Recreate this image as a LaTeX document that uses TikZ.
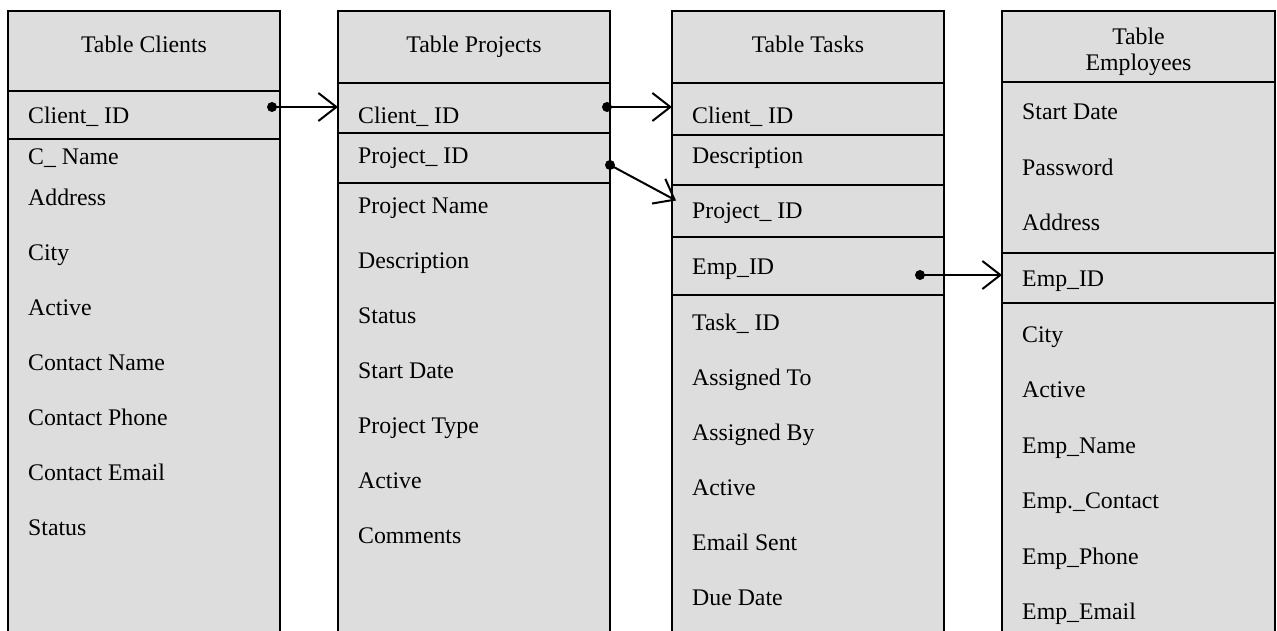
\documentclass[tikz,border=0pt]{standalone}
\usepackage{fontspec}
\setmainfont{Liberation Serif}
\usetikzlibrary{arrows.meta}
\definecolor{tablefill}{RGB}{221,221,221}
\tikzset{
  tablebg/.style={fill=tablefill, draw=none, inner sep=0pt, outer sep=0pt, anchor=north west},
  border/.style={line width=2pt, line cap=rect},
  sep/.style={line width=2pt},
  field/.style={anchor=base west, inner sep=0pt, font=\fontsize{23.8pt}{28pt}\selectfont},
  head/.style={anchor=base, inner sep=0pt, font=\fontsize{23.8pt}{28pt}\selectfont, align=center},
  conn/.style={line width=2pt, -{Straight Barb[length=18pt, width=28pt, line width=2pt]}},
  dotmark/.style={fill=black}
}
\begin{document}
\begin{tikzpicture}[x=1pt,y=-1pt]
\useasboundingbox (0,0) rectangle (1277,631);
% table backgrounds
\node[tablebg, minimum width=272pt, minimum height=630pt] (clients) at (8,11) {};
\node[tablebg, minimum width=272pt, minimum height=630pt] (projects) at (338,11) {};
\node[tablebg, minimum width=272pt, minimum height=630pt] (tasks) at (672,11) {};
\node[tablebg, minimum width=273pt, minimum height=630pt] (employees) at (1002,11) {};
% borders (open at the bottom)
\foreach \t in {clients,projects,tasks,employees}{
  \draw[border] (\t.south west) -- (\t.north west) -- (\t.north east) -- (\t.south east);
}
% separators
\draw[sep] (8,91) -- (280,91);
\draw[sep] (8,139) -- (280,139);
\draw[sep] (338,83) -- (610,83);
\draw[sep] (338,133) -- (610,133);
\draw[sep] (338,183) -- (610,183);
\draw[sep] (672,83) -- (944,83);
\draw[sep] (672,135) -- (944,135);
\draw[sep] (672,185) -- (944,185);
\draw[sep] (672,237) -- (944,237);
\draw[sep] (672,295) -- (944,295);
\draw[sep] (1002,82) -- (1275,82);
\draw[sep] (1002,253) -- (1275,253);
\draw[sep] (1002,303) -- (1275,303);
% headers
\node[head] (hc) at (144,52.3) {Table Clients};
\node[head] (hp) at (474,52.3) {Table Projects};
\node[head] (ht) at (808,52.3) {Table Tasks};
\node[head] (he1) at (1138.5,45) {Table};
\node[head] (he2) at (1138.5,70.7) {Employees};
% Clients fields
\node[field] (c1) at (28,123.3) {Client\_ ID};
\node[field] (c2) at (28,164.3) {C\_ Name};
\node[field] (c3) at (28,206) {Address};
\node[field] (c4) at (28,260.5) {City};
\node[field] (c5) at (28,315.5) {Active};
\node[field] (c6) at (28,370.5) {Contact Name};
\node[field] (c7) at (28,425.5) {Contact Phone};
\node[field] (c8) at (28,480.5) {Contact Email};
\node[field] (c9) at (28,535.5) {Status};
% Projects fields
\node[field] (p1) at (358,123.3) {Client\_ ID};
\node[field] (p2) at (358,164) {Project\_ ID};
\node[field] (p3) at (358,213.3) {Project Name};
\node[field] (p4) at (358,268.3) {Description};
\node[field] (p5) at (358,323.3) {Status};
\node[field] (p6) at (358,378.3) {Start Date};
\node[field] (p7) at (358,433.3) {Project Type};
\node[field] (p8) at (358,488.3) {Active};
\node[field] (p9) at (358,543.3) {Comments};
% Tasks fields
\node[field] (t1) at (692,123.3) {Client\_ ID};
\node[field] (t2) at (692,164) {Description};
\node[field] (t3) at (692,218.3) {Project\_ ID};
\node[field] (t4) at (692,274) {Emp\_ID};
\node[field] (t5) at (692,330) {Task\_ ID};
\node[field] (t6) at (692,385) {Assigned To};
\node[field] (t7) at (692,440) {Assigned By};
\node[field] (t8) at (692,495) {Active};
\node[field] (t9) at (692,550) {Email Sent};
\node[field] (t10) at (692,605) {Due Date};
% Employees fields
\node[field] (e1) at (1022,120) {Start Date};
\node[field] (e2) at (1022,175.5) {Password};
\node[field] (e3) at (1022,231) {Address};
\node[field] (e4) at (1022,286) {Emp\_ID};
\node[field] (e5) at (1022,342) {City};
\node[field] (e6) at (1022,397.5) {Active};
\node[field] (e7) at (1022,453) {Emp\_Name};
\node[field] (e8) at (1022,508.5) {Emp.\_Contact};
\node[field] (e9) at (1022,564) {Emp\_Phone};
\node[field] (e10) at (1022,619.5) {Emp\_Email};
% connector end points
\coordinate (d1) at (272,107);
\coordinate (d2) at (607,107);
\coordinate (d3) at (610,165);
\coordinate (d4) at (920,275);
\coordinate (a3) at (676,200.5);
% connectors
\draw[conn] (d1) -- (d1 -| projects.west);
\draw[conn] (d2) -- (d2 -| tasks.west);
\draw[conn] (d3) -- (a3);
\draw[conn] (d4) -- (d4 -| employees.west);
\foreach \d in {d1,d2,d3,d4}{ \fill[dotmark] (\d) circle (5pt); }
\end{tikzpicture}
\end{document}
